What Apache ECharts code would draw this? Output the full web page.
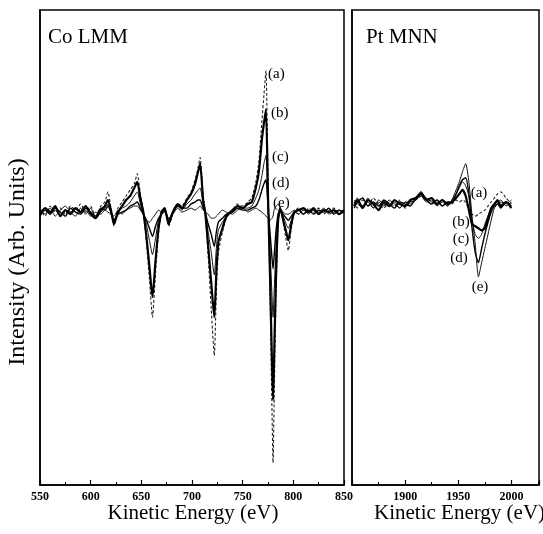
<!DOCTYPE html>
<html>
<head>
<meta charset="utf-8">
<script src="https://cdn.jsdelivr.net/npm/echarts@6.0.0/dist/echarts.min.js"></script>
<style>
    html, body { margin: 0; padding: 0; background: #fff; }
    #chart { width: 543px; height: 534px; }
</style>
</head>
<body>
<div id="chart"></div>
<script>
// Co LMM panel (kinetic energy in eV, intensity in arb. units x100)
const coEnergy = [550, 555, 560, 565, 570, 575, 580, 585, 590, 595, 600, 605, 610,
    614, 617, 620, 623, 627, 631, 635, 639, 643, 646,
    649, 652, 655, 658, 661, 664, 667, 670, 673, 677,
    681, 686, 690, 695, 699, 703, 706, 708, 711, 713,
    716, 719, 722, 724, 726, 730, 734, 740, 745, 750,
    755, 759, 763, 766, 769, 771, 773, 775, 777, 779,
    780, 781, 783, 785, 787, 790, 793, 795, 798, 801,
    805, 810, 815, 820, 825, 830, 835, 840, 845, 850];
const coA = [2, -2, 3, 0, 2, -1, 3, 1, 4, 0, 3, -3, 3,
    5, 10, 2, -7, 2, 5, 8, 11, 14, 19,
    9, 0, -15, -33, -52, -30, -10, 0, 2, -7,
    -1, 4, 3, 7, 10, 16, 22, 27, 8, 0,
    -22, -48, -71, -40, -20, -10, -3, 1, 4, 3,
    5, 7, 15, 25, 45, 58, 70, 15, -40, -100,
    -124, -95, -40, -5, 2, -5, -14, -19, -8, 0,
    2, -1, 2, 0, 2, -1, 1, 2, 0, 1];
const coB = [-1, 2, 0, 3, -2, 1, -1, 2, 0, 3, -1, -3, 1,
    3, 6, 1, -6, 0, 3, 6, 8, 12, 15,
    7, 0, -12, -27, -42, -24, -8, 0, 2, -6,
    0, 4, 2, 6, 9, 14, 20, 24, 6, 0,
    -17, -35, -52, -30, -15, -8, -2, 1, 3, 2,
    4, 5, 12, 20, 36, 44, 51, 8, -32, -76,
    -93, -72, -30, -4, 2, -4, -10, -14, -6, 0,
    1, 2, 0, 2, -1, 1, 0, 1, -1, 1];
const coC = [1, -1, 2, -2, 1, 3, 0, -2, 2, -1, 2, -3, 0,
    2, 4, 0, -5, 0, 2, 3, 5, 8, 10,
    4, 0, -6, -14, -21, -13, -4, -1, 0, -5,
    -1, 3, 1, 4, 6, 9, 11, 12, 4, 0,
    -10, -20, -31, -18, -9, -5, -2, 0, 3, 2,
    2, 3, 7, 11, 18, 24, 28, 4, -18, -42,
    -52, -40, -17, -2, 1, -2, -6, -8, -4, 0,
    -1, 1, -1, 1, 0, 2, -1, 0, 1, 0];
const coD = [-2, 1, -1, 2, 0, -2, 2, 0, -1, 2, 0, -2, 2,
    1, 3, 0, -4, -1, 0, 1, 3, 4, 5,
    2, -1, -4, -8, -12, -7, -3, -1, 1, -4,
    0, 3, 2, 2, 4, 5, 6, 6, 2, 0,
    -6, -11, -17, -10, -5, -3, -1, 0, 2, 1,
    1, 2, 3, 6, 11, 14, 16, 3, -10, -23,
    -28, -22, -9, -1, 1, -1, -3, -4, -2, 0,
    1, -1, 1, -1, 1, 0, 2, -1, 1, 0];
const coE = [0, 2, -1, 1, -2, 1, 0, 2, -1, 1, -2, 0, -1,
    1, 0, -1, -2, 1, -1, 1, 2, 3, 3,
    1, -1, -4, -5, -3, -1, 1, 0, 1, -3,
    -1, 2, 0, 1, 2, 1, 2, 3, 1, 0,
    -1, -3, -3, -2, -1, 1, 0, -1, 1, 2,
    0, 1, 2, 1, 0, -1, -2, -3, -4, -3,
    -2, 1, 3, 4, 2, 0, -1, -1, 0, 1,
    -1, 1, 0, 1, -1, 1, 0, 1, -1, 0];

// Pt MNN panel
const ptEnergy = [1852, 1855, 1860, 1865, 1870, 1875, 1880, 1885, 1890, 1895,
    1900, 1905, 1910, 1915, 1920, 1925, 1930, 1935, 1940,
    1944, 1948, 1951, 1954, 1957, 1960, 1963, 1966, 1969,
    1972, 1975, 1978, 1981, 1984, 1987, 1990, 1995, 2000];
const ptA = [1, -2, 2, -1, 3, 0, -2, 1, -1, 2, -2, 1, 2, 4, 3, 1, 2, -1, 1,
    0, 2, 1, 2, 1, -3, -5, -6, -5, -4, -3, -1, 1, 3, 5, 6, 3, 0];
const ptB = [-1, 2, -2, 2, 0, -3, 1, -1, 2, 0, -1, 2, 3, 5, 2, 3, 0, 2, 0,
    1, 3, 5, 7, 4, -3, -10, -11, -12, -13, -12, -7, -2, 0, 2, -1, 1, -2];
const ptC = [2, 0, -1, 3, -2, 1, -1, 2, 0, -2, 1, 0, 2, 4, 1, 2, -1, 1, -1,
    2, 5, 8, 11, 9, 4, -8, -15, -17, -15, -10, -6, -2, 0, 1, 2, -1, 1];
const ptD = [-2, 1, 3, -1, 1, -1, 2, 0, -2, 1, 0, -1, 3, 6, 2, 0, 2, -1, 1,
    1, 5, 9, 12, 13, 5, -12, -24, -29, -22, -15, -9, -4, -1, 0, -2, 1, -1];
const ptE = [0, 3, -1, 1, -2, 2, 0, -1, 1, -2, 1, 1, 2, 5, 3, 1, 0, 2, -1,
    2, 7, 11, 16, 20, 11, -6, -20, -36, -29, -22, -15, -8, -2, 0, 1, 0, 2];

const sampleNames = ['(a)', '(b)', '(c)', '(d)', '(e)'];

document.addEventListener('DOMContentLoaded', function () {
    const chart = echarts.init(document.getElementById('chart'));
    const serif = '"Liberation Serif", "DejaVu Serif", serif';

    // line style per sample: (a) dotted, (b) heavy, others thin
    const styles = [
        {width: 1.1, type: [3, 2], color: '#222'},
        {width: 2.2, type: 'solid', color: '#000'},
        {width: 1, type: 'solid', color: '#111'},
        {width: 1.4, type: 'solid', color: '#000'},
        {width: 1, type: 'solid', color: '#111'}
    ];

    function pairs(xs, ys) {
        return xs.map(function (x, i) { return [x, ys[i]]; });
    }

    function makeSeries(xs, sets, axisIndex) {
        return sets.map(function (ys, k) {
            return {
                name: sampleNames[k],
                type: 'line',
                xAxisIndex: axisIndex,
                yAxisIndex: axisIndex,
                showSymbol: false,
                smooth: 0.2,
                animation: false,
                lineStyle: styles[k],
                data: pairs(xs, ys),
                z: k === 1 ? 3 : 2
            };
        });
    }

    function xAxisBase(gridIndex, min, max, showMin) {
        return {
            type: 'value',
            gridIndex: gridIndex,
            min: min,
            max: max,
            interval: 50,
            axisLine: {show: true, onZero: false, lineStyle: {color: '#000', width: 1.5}},
            axisTick: {show: true, inside: true, length: 5, lineStyle: {color: '#000', width: 1.2}},
            minorTick: {show: true, splitNumber: 2, length: 3, lineStyle: {color: '#000', width: 1}},
            splitLine: {show: false},
            axisLabel: {
                color: '#000',
                fontFamily: serif,
                fontSize: 12,
                fontWeight: 'bold',
                margin: 6,
                showMinLabel: showMin,
                showMaxLabel: gridIndex === 0,
                formatter: function (v) { return String(v); }
            }
        };
    }

    function yAxisBase(gridIndex, min, max) {
        return {
            type: 'value',
            gridIndex: gridIndex,
            min: min,
            max: max,
            axisLine: {show: true, onZero: false, lineStyle: {color: '#000', width: 1.5}},
            axisTick: {show: false},
            axisLabel: {show: false},
            splitLine: {show: false}
        };
    }

    const option = {
        animation: false,
        backgroundColor: '#fff',
        grid: [
            {left: 40, top: 10, width: 304, height: 475, show: true, borderColor: '#000', borderWidth: 1.5},
            {left: 352, top: 10, width: 187, height: 475, show: true, borderColor: '#000', borderWidth: 1.5}
        ],
        xAxis: [
            xAxisBase(0, 550, 850, true),
            xAxisBase(1, 1850, 2026, false)
        ],
        yAxis: [
            yAxisBase(0, -135, 100),
            yAxisBase(1, -139, 96)
        ],
        series: makeSeries(coEnergy, [coA, coB, coC, coD, coE], 0)
            .concat(makeSeries(ptEnergy, [ptA, ptB, ptC, ptD, ptE], 1)),
        graphic: [
            {type: 'text', style: {text: 'Co LMM', x: 48, y: 37, font: '21px ' + serif, fill: '#000', verticalAlign: 'middle'}},
            {type: 'text', style: {text: 'Pt MNN', x: 366, y: 37, font: '21px ' + serif, fill: '#000', verticalAlign: 'middle'}},
            {type: 'text', style: {text: 'Kinetic Energy (eV)', x: 193, y: 513, font: '21px ' + serif, fill: '#000', align: 'center', verticalAlign: 'middle'}},
            {type: 'text', style: {text: 'Kinetic Energy (eV)', x: 374, y: 513, font: '21px ' + serif, fill: '#000', verticalAlign: 'middle'}},
            {type: 'text', x: 18, y: 262, rotation: Math.PI / 2,
                style: {text: 'Intensity (Arb. Units)', x: 0, y: 0, font: '24px ' + serif, fill: '#000', align: 'center', verticalAlign: 'middle'}},
            // Co labels
            {type: 'text', style: {text: sampleNames[0], x: 268, y: 74, font: '15px ' + serif, fill: '#000', verticalAlign: 'middle'}},
            {type: 'text', style: {text: sampleNames[1], x: 271, y: 113, font: '15px ' + serif, fill: '#000', verticalAlign: 'middle'}},
            {type: 'text', style: {text: sampleNames[2], x: 272, y: 157, font: '15px ' + serif, fill: '#000', verticalAlign: 'middle'}},
            {type: 'text', style: {text: sampleNames[3], x: 272, y: 183, font: '15px ' + serif, fill: '#000', verticalAlign: 'middle'}},
            {type: 'text', style: {text: sampleNames[4], x: 273, y: 203, font: '15px ' + serif, fill: '#000', verticalAlign: 'middle'}},
            // Pt labels
            {type: 'text', style: {text: sampleNames[0], x: 479, y: 193, font: '15px ' + serif, fill: '#000', align: 'center', verticalAlign: 'middle'}},
            {type: 'text', style: {text: sampleNames[1], x: 461, y: 222, font: '15px ' + serif, fill: '#000', align: 'center', verticalAlign: 'middle'}},
            {type: 'text', style: {text: sampleNames[2], x: 461, y: 239, font: '15px ' + serif, fill: '#000', align: 'center', verticalAlign: 'middle'}},
            {type: 'text', style: {text: sampleNames[3], x: 459, y: 258, font: '15px ' + serif, fill: '#000', align: 'center', verticalAlign: 'middle'}},
            {type: 'text', style: {text: sampleNames[4], x: 480, y: 287, font: '15px ' + serif, fill: '#000', align: 'center', verticalAlign: 'middle'}}
        ]
    };
    chart.setOption(option);

    window.addEventListener('resize', function () {
        chart.resize();
    });
});
</script>
</body>
</html>
